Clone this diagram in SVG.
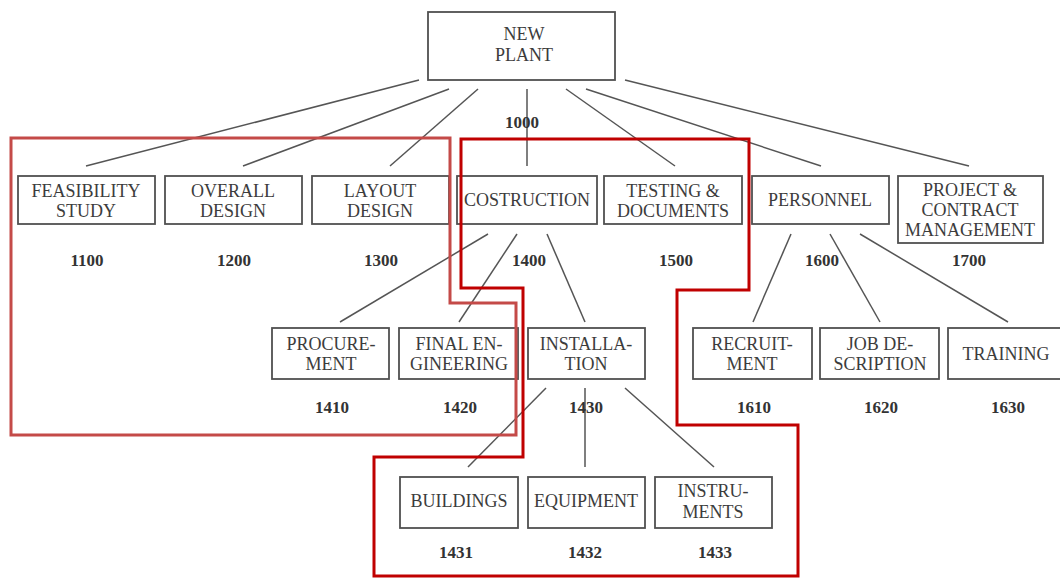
<svg xmlns="http://www.w3.org/2000/svg" width="1060" height="578" viewBox="0 0 1060 578">
  <style>
    .box { fill: #fff; stroke: #505050; stroke-width: 1.8; }
    .lbl { font-family: "Liberation Serif", "Times New Roman", serif; font-size: 18px; fill: #3c3c3c; text-anchor: middle; }
    .num { font-family: "Liberation Serif", "Times New Roman", serif; font-size: 17px; font-weight: bold; fill: #333; text-anchor: middle; }
    .conn line { stroke: #555; stroke-width: 1.5; }
    .zone-a { fill: none; stroke: #c44a48; stroke-width: 3; }
    .zone-b { fill: none; stroke: #c00000; stroke-width: 3; }
  </style>
  <rect width="1060" height="578" fill="#fff"/>

  <!-- connectors -->
  <g id="connectors" class="conn">
    <line x1="419" y1="80" x2="86" y2="166"/>
    <line x1="449" y1="89" x2="243" y2="166"/>
    <line x1="478" y1="89" x2="390" y2="166"/>
    <line x1="527" y1="89" x2="527" y2="166"/>
    <line x1="566" y1="89" x2="675" y2="166"/>
    <line x1="586" y1="89" x2="821" y2="166"/>
    <line x1="625" y1="80" x2="969" y2="166"/>
    <line x1="488" y1="234" x2="340" y2="322"/>
    <line x1="517" y1="234" x2="459" y2="322"/>
    <line x1="547" y1="234" x2="585" y2="322"/>
    <line x1="791" y1="234" x2="753" y2="322"/>
    <line x1="830" y1="234" x2="880" y2="322"/>
    <line x1="860" y1="234" x2="1008" y2="322"/>
    <line x1="546" y1="388" x2="468" y2="467"/>
    <line x1="585" y1="388" x2="585" y2="467"/>
    <line x1="625" y1="388" x2="714" y2="467"/>
  </g>

  <g id="n1000">
    <rect class="box" x="428" y="12" width="187" height="68"/>
    <text class="lbl" x="524" y="40">NEW</text>
    <text class="lbl" x="524" y="61">PLANT</text>
    <text class="num" x="522" y="128">1000</text>
  </g>

  <g id="n1100">
    <rect class="box" x="18" y="176" width="137" height="48"/>
    <text class="lbl" x="86" y="197">FEASIBILITY</text>
    <text class="lbl" x="86" y="217">STUDY</text>
    <text class="num" x="87" y="266">1100</text>
  </g>
  <g id="n1200">
    <rect class="box" x="165" y="176" width="137" height="48"/>
    <text class="lbl" x="233" y="197">OVERALL</text>
    <text class="lbl" x="233" y="217">DESIGN</text>
    <text class="num" x="234" y="266">1200</text>
  </g>
  <g id="n1300">
    <rect class="box" x="312" y="176" width="137" height="48"/>
    <text class="lbl" x="380" y="197">LAYOUT</text>
    <text class="lbl" x="380" y="217">DESIGN</text>
    <text class="num" x="381" y="266">1300</text>
  </g>
  <g id="n1400">
    <rect class="box" x="457" y="176" width="140" height="48"/>
    <text class="lbl" x="527" y="206">COSTRUCTION</text>
    <text class="num" x="529" y="266">1400</text>
  </g>
  <g id="n1500">
    <rect class="box" x="604" y="176" width="138" height="48"/>
    <text class="lbl" x="673" y="197">TESTING &amp;</text>
    <text class="lbl" x="673" y="217">DOCUMENTS</text>
    <text class="num" x="676" y="266">1500</text>
  </g>
  <g id="n1600">
    <rect class="box" x="752" y="176" width="137" height="48"/>
    <text class="lbl" x="820" y="206">PERSONNEL</text>
    <text class="num" x="822" y="266">1600</text>
  </g>
  <g id="n1700">
    <rect class="box" x="898" y="176" width="145" height="67"/>
    <text class="lbl" x="970" y="196">PROJECT &amp;</text>
    <text class="lbl" x="970" y="216">CONTRACT</text>
    <text class="lbl" x="970" y="236">MANAGEMENT</text>
    <text class="num" x="969" y="266">1700</text>
  </g>

  <g id="n1410">
    <rect class="box" x="272" y="328" width="117" height="51"/>
    <text class="lbl" x="331" y="350">PROCURE-</text>
    <text class="lbl" x="331" y="370">MENT</text>
    <text class="num" x="332" y="413">1410</text>
  </g>
  <g id="n1420">
    <rect class="box" x="399" y="328" width="119" height="51"/>
    <text class="lbl" x="459" y="350">FINAL EN-</text>
    <text class="lbl" x="459" y="370">GINEERING</text>
    <text class="num" x="460" y="413">1420</text>
  </g>
  <g id="n1430">
    <rect class="box" x="528" y="328" width="117" height="51"/>
    <text class="lbl" x="586" y="350">INSTALLA-</text>
    <text class="lbl" x="586" y="370">TION</text>
    <text class="num" x="586" y="413">1430</text>
  </g>
  <g id="n1610">
    <rect class="box" x="693" y="328" width="119" height="51"/>
    <text class="lbl" x="752" y="350">RECRUIT-</text>
    <text class="lbl" x="752" y="370">MENT</text>
    <text class="num" x="754" y="413">1610</text>
  </g>
  <g id="n1620">
    <rect class="box" x="820" y="328" width="119" height="51"/>
    <text class="lbl" x="880" y="350">JOB DE-</text>
    <text class="lbl" x="880" y="370">SCRIPTION</text>
    <text class="num" x="881" y="413">1620</text>
  </g>
  <g id="n1630">
    <rect class="box" x="948" y="328" width="120" height="51"/>
    <text class="lbl" x="1006" y="360">TRAINING</text>
    <text class="num" x="1008" y="413">1630</text>
  </g>

  <g id="n1431">
    <rect class="box" x="400" y="477" width="118" height="51"/>
    <text class="lbl" x="459" y="507">BUILDINGS</text>
    <text class="num" x="456" y="558">1431</text>
  </g>
  <g id="n1432">
    <rect class="box" x="528" y="477" width="117" height="51"/>
    <text class="lbl" x="586" y="507">EQUIPMENT</text>
    <text class="num" x="585" y="558">1432</text>
  </g>
  <g id="n1433">
    <rect class="box" x="655" y="477" width="117" height="51"/>
    <text class="lbl" x="713" y="497">INSTRU-</text>
    <text class="lbl" x="713" y="518">MENTS</text>
    <text class="num" x="715" y="558">1433</text>
  </g>

  <!-- highlighted work-package zones -->
  <g id="zones">
    <path class="zone-a" d="M11,138 H450 V303 H516 V435 H11 Z"/>
    <path class="zone-b" d="M461,139 H749 V290 H677 V425 H798 V576 H374 V457 H523 V288 H461 Z"/>
  </g>
</svg>
